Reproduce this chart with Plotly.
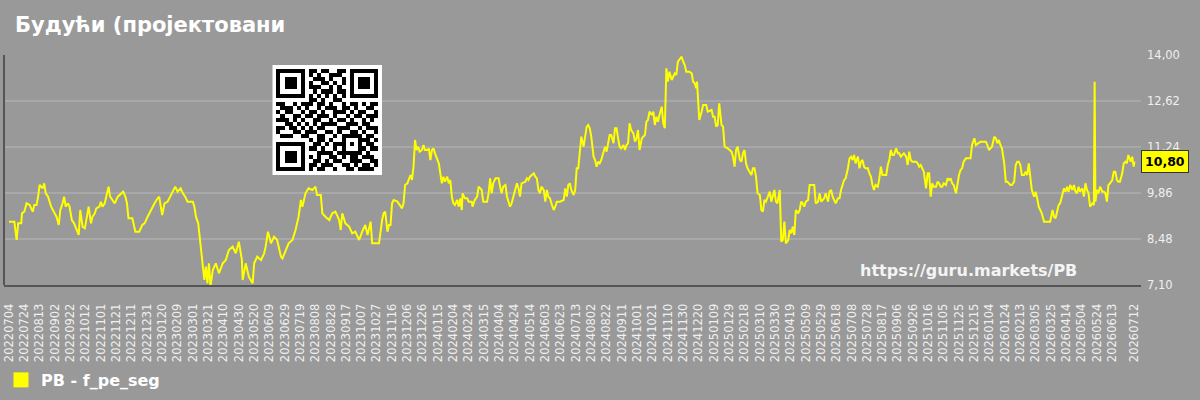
import plotly.graph_objects as go
import pandas as pd

# ---------------- data ----------------
START_DATE = "2022-07-04"
series_name = "PB - f_pe_seg"
title_text = "Будући (пројектовани"
watermark_text = "https://guru.markets/PB"
last_value = 10.80
last_label = "10,80"

# days since START_DATE
day_index = [
    0, 7, 10, 12, 16, 17, 20, 23, 27, 31, 33, 36, 38, 40, 44, 46, 48, 51, 55, 59,
    62, 65, 67, 70, 72, 74, 77, 79, 82, 85, 89, 91, 93, 96, 99, 102, 104, 107, 109, 112,
    114, 118, 120, 122, 125, 130, 132, 135, 138, 142, 146, 149, 152, 154, 156, 161, 165, 170, 174, 177,
    181, 185, 190, 194, 196, 200, 203, 207, 209, 214, 217, 220, 224, 227, 230, 233, 240, 242, 244, 247,
    250, 253, 255, 257, 259, 261, 263, 266, 270, 274, 279, 283, 287, 292, 296, 300, 304, 305, 309, 313,
    318, 320, 324, 329, 333, 335, 338, 342, 346, 350, 355,
    357, 361, 365, 370, 374, 378, 381, 383, 387, 391, 396, 400, 402, 407, 409, 413, 418, 422, 426, 431,
    433, 435, 439, 444, 448, 452, 457, 461, 465, 468, 472, 474, 483, 487,
    489, 491, 494, 496, 498, 500, 502, 507, 511, 513, 515, 517, 520, 522, 524, 526, 528, 530, 532, 534,
    536, 539, 541, 543, 546, 548, 550, 552, 554, 556, 559, 561, 563, 565, 567, 569, 572, 574, 576, 578,
    580, 582, 585, 587, 589, 591, 592, 595, 598, 600, 604, 605, 608, 611, 613, 615, 617, 619, 624, 626,
    628, 630, 632, 635, 639, 641, 643, 645, 648, 650, 652, 654, 656, 658, 661, 663, 665, 667, 669, 674,
    676, 678, 680, 682, 685, 687, 689, 691, 693, 695, 698, 700, 702, 704, 706, 708, 711, 713, 715, 719,
    724, 726, 728, 730, 732, 734, 737, 739, 741, 743, 745, 747, 750, 752, 754, 756, 758, 760, 763, 765,
    767, 769, 771, 773, 776, 778, 780, 782, 784, 786, 789, 791, 793, 795, 797, 799, 802, 804, 806, 808,
    810, 812, 815, 817, 819, 821, 823, 826, 828, 830, 832, 834, 836, 839, 841, 843, 845, 847, 849, 852,
    854, 856, 858, 860, 862, 865, 869, 871, 873, 875, 878, 880, 882, 884, 888, 891, 893, 895, 897, 898,
    900, 901, 904, 906, 910, 912, 917, 919, 921, 923, 925, 927, 930, 932, 934, 938, 943, 945, 947, 949,
    951, 954, 956, 958, 960, 962, 964, 967, 969, 971, 973, 975, 977, 980, 982, 984, 986, 988, 990, 993,
    995, 997, 999, 1001, 1003, 1006,
    1008, 1010, 1012, 1014, 1017, 1019, 1021, 1023, 1025, 1027, 1030, 1032, 1034, 1036, 1038, 1040, 1043, 1045, 1051, 1053,
    1056, 1058, 1060, 1062, 1064, 1066, 1069, 1071, 1073, 1075, 1077, 1079, 1082, 1084, 1086, 1088, 1090, 1092, 1095, 1097,
    1099, 1101, 1103, 1105, 1108, 1110, 1112, 1114, 1116, 1118, 1121, 1123, 1125, 1127, 1129, 1131, 1134, 1136, 1138, 1140,
    1142, 1145, 1147, 1149, 1151, 1153, 1155, 1158, 1160, 1162, 1164, 1166, 1168, 1171, 1173, 1175, 1177, 1179, 1181, 1184,
    1186, 1188, 1190, 1192, 1194, 1197, 1199, 1201, 1203, 1205, 1207, 1210, 1212, 1214, 1216, 1218, 1220, 1223, 1225, 1227,
    1229, 1231, 1233, 1236, 1238, 1240, 1242, 1244, 1246, 1249, 1251, 1255, 1257, 1260, 1262, 1268, 1273, 1275, 1277, 1279,
    1281, 1283, 1286, 1288, 1290, 1292, 1294, 1296, 1299, 1301, 1303, 1305, 1307, 1309, 1312, 1314, 1316, 1318, 1320, 1322,
    1325, 1327, 1329, 1331, 1333, 1335, 1338, 1340, 1342, 1344, 1346, 1348, 1351, 1355, 1359, 1362, 1364, 1366, 1368, 1370,
    1372, 1375, 1377, 1379, 1381, 1383, 1385, 1388, 1390, 1392, 1394, 1396, 1398, 1401, 1403, 1405, 1407, 1409, 1411, 1414,
    1416, 1417, 1418, 1420, 1422, 1424, 1427, 1429, 1431, 1433, 1435, 1437, 1440, 1442, 1444, 1446, 1448, 1450, 1453, 1455,
    1457, 1459, 1461, 1464, 1466, 1468, 1469,
]

pb_values = [
    9.00, 9.00, 8.45, 8.95, 8.95, 9.25, 9.30, 9.55, 9.50, 9.30, 9.50, 9.50, 9.75, 10.10, 10.00, 10.15, 9.85, 9.75, 9.45, 9.25,
    9.15, 8.90, 9.35, 9.55, 9.75, 9.45, 9.55, 9.45, 9.05, 8.95, 8.75, 8.60, 9.35, 8.85, 8.80, 9.25, 9.45, 8.95, 9.15, 9.25,
    9.40, 9.45, 9.60, 9.45, 9.55, 10.05, 9.75, 9.65, 9.55, 9.75, 9.85, 9.90, 9.75, 9.55, 9.10, 9.10, 8.70, 8.70, 8.90, 8.95,
    9.15, 9.35, 9.55, 9.70, 9.75, 9.20, 9.55, 9.60, 9.70, 9.95, 10.05, 9.90, 10.00, 9.85, 9.75, 9.60, 9.60, 9.45, 9.15, 8.95,
    8.35, 7.75, 7.25, 7.65, 7.15, 7.75, 7.05, 7.55, 7.75, 7.45, 7.75, 7.85, 8.15, 8.25, 8.05, 8.40, 7.85, 7.25, 7.75, 7.35,
    7.15, 7.75, 7.95, 7.85, 8.05, 8.25, 8.70, 8.35, 8.55, 8.45, 7.95,
    7.90, 8.15, 8.35, 8.45, 8.75, 9.15, 9.65, 9.45, 9.85, 10.00, 9.95, 10.05, 9.80, 9.80, 9.25, 9.15, 9.05, 9.25, 9.30, 9.05,
    8.75, 9.25, 8.95, 8.85, 8.65, 8.70, 8.45, 8.70, 8.90, 8.60, 9.00, 8.35, 8.35, 9.05,
    9.25, 9.30, 8.70, 8.90, 8.90, 9.55, 9.65, 9.60, 9.45, 9.40, 9.55, 10.10, 10.15, 10.30, 10.40, 10.25, 10.65, 11.45, 11.15, 11.25,
    11.10, 11.15, 11.30, 11.15, 11.15, 11.20, 10.85, 11.15, 11.20, 11.05, 10.85, 10.75, 10.45, 10.15, 10.35, 10.20, 10.35, 10.15, 10.25, 9.75,
    9.55, 9.50, 9.65, 9.45, 9.70, 9.35, 9.85, 9.70, 9.70, 9.60, 9.60, 9.45, 9.65, 9.75, 10.05, 10.00, 9.95, 9.60, 9.60, 9.85,
    10.30, 9.85, 10.15, 10.30, 10.30, 10.05, 9.85, 10.05, 10.10, 9.75, 9.60, 9.45, 9.55, 9.75, 10.05, 10.15, 10.00, 9.75, 10.15, 10.20,
    10.30, 10.25, 10.35, 10.40, 10.45, 10.35, 10.30, 9.95, 9.85, 10.05, 9.95, 9.60, 9.95, 9.75, 9.70, 9.55, 9.35, 9.45, 9.60, 9.60,
    9.65, 10.00, 9.75, 10.10, 10.15, 9.95, 9.80, 9.95, 10.60, 10.60, 11.15, 11.55, 11.25, 11.55, 11.85, 11.90, 11.80, 11.55, 10.95, 10.85,
    10.65, 10.80, 10.75, 10.85, 11.15, 11.25, 11.10, 11.35, 11.60, 11.60, 11.35, 11.80, 11.80, 11.50, 11.25, 11.20, 11.30, 11.15, 11.30, 11.35,
    11.95, 11.75, 11.65, 11.40, 11.50, 11.75, 11.15, 11.50, 11.55, 11.60, 12.00, 12.05, 12.30, 12.20, 12.30, 11.90, 12.15, 12.00, 12.20, 12.45,
    11.95, 11.80, 13.60, 13.20, 13.50, 13.25, 13.45, 13.40, 13.80, 13.85, 13.95, 13.80, 13.70, 13.50, 13.50, 13.45, 13.20, 13.15, 13.00, 13.20,
    12.20, 12.05, 12.30, 12.50, 12.50, 12.30, 12.35, 12.15, 12.15, 11.85, 11.90, 12.55, 11.90, 11.85, 11.25, 11.20, 11.10, 10.95, 10.65, 11.15,
    11.25, 10.85, 10.80, 11.05, 11.15, 10.75, 10.60, 10.45, 10.40, 10.60, 10.60, 10.35, 9.85, 9.80, 9.35, 9.30, 9.65, 9.60, 9.75, 9.90,
    9.60, 9.75, 9.95, 9.60, 9.55, 9.95,
    8.40, 8.45, 9.00, 8.35, 8.45, 8.75, 8.65, 8.85, 8.60, 9.35, 9.25, 9.35, 9.60, 9.55, 9.45, 9.60, 9.65, 10.10, 10.10, 9.55,
    9.60, 9.85, 9.60, 9.65, 9.70, 9.85, 9.60, 9.90, 9.95, 9.75, 9.65, 9.55, 9.70, 9.70, 9.95, 10.15, 10.25, 10.30, 10.60, 10.90,
    10.95, 10.85, 11.00, 10.75, 10.95, 10.60, 10.80, 10.85, 10.65, 10.60, 10.60, 10.45, 10.35, 10.10, 9.95, 10.10, 10.05, 10.30, 10.65, 10.40,
    10.40, 10.40, 10.70, 10.85, 11.15, 11.00, 11.00, 11.20, 11.05, 11.05, 10.95, 11.00, 11.05, 10.95, 10.70, 11.10, 10.85, 10.80, 10.80, 10.80,
    10.75, 10.65, 10.70, 10.60, 10.50, 10.00, 10.45, 10.45, 9.75, 10.15, 10.05, 10.05, 10.20, 10.15, 10.05, 10.05, 10.15, 10.10, 10.30, 10.25,
    10.30, 10.15, 10.10, 9.85, 10.20, 10.40, 10.55, 10.60, 10.80, 10.90, 10.90, 10.90, 11.30, 11.50, 11.30, 11.40, 11.40, 11.40, 11.30, 11.15,
    11.20, 11.25, 11.55, 11.50, 11.35, 11.45, 11.30, 11.20, 10.75, 10.20, 10.20, 10.15, 10.10, 10.10, 10.20, 10.70, 10.80, 10.80, 10.70, 10.40,
    10.40, 10.50, 10.40, 10.75, 10.25, 9.95, 9.75, 9.90, 9.70, 9.45, 9.35, 9.25, 9.00, 9.00, 9.00, 9.35, 9.15, 9.10, 9.35, 9.50,
    9.55, 9.80, 10.00, 9.90, 10.05, 9.90, 10.10, 9.95, 10.10, 9.90, 9.85, 10.05, 9.90, 10.00, 9.75, 10.15, 9.95, 9.85, 9.45, 9.55,
    9.50, 13.20, 9.60, 9.95, 9.85, 10.05, 9.90, 9.90, 9.85, 9.60, 10.10, 10.15, 10.25, 10.50, 10.50, 10.25, 10.20, 10.20, 10.45, 10.75,
    10.80, 10.75, 11.00, 10.80, 10.95, 10.65, 10.80,
]

x_tick_labels = [
    "20220704", "20220724", "20220813", "20220902", "20220922", "20221012", "20221101", "20221121",
    "20221211", "20221231", "20230120", "20230209", "20230301", "20230321", "20230410", "20230430",
    "20230520", "20230609", "20230629", "20230719", "20230808", "20230828", "20230917", "20231007",
    "20231027", "20231116", "20231206", "20231226", "20240115", "20240204", "20240224", "20240315",
    "20240404", "20240424", "20240514", "20240603", "20240623", "20240713", "20240802", "20240822",
    "20240911", "20241001", "20241021", "20241110", "20241130", "20241220", "20250109", "20250129",
    "20250218", "20250310", "20250330", "20250419", "20250509", "20250529", "20250618", "20250708",
    "20250728", "20250817", "20250906", "20250926", "20251016", "20251105", "20251125", "20251215",
    "20260104", "20260124", "20260213", "20260305", "20260325", "20260414", "20260504", "20260524",
    "20260613", "20260712",
]

y_tick_values = [7.10, 8.48, 9.86, 11.24, 12.62, 14.00]
y_tick_labels = ["7,10", "8,48", "9,86", "11,24", "12,62", "14,00"]

# QR-code style badge (decorative), 25x25 modules
qr_rows = [
    "1111111 0 110110011 0 1111111",
    "1000001 0 101001110 0 1000001",
    "1011101 0 011101001 0 1011101",
    "1011101 0 100110101 0 1011101",
    "1011101 0 111001010 0 1011101",
    "1000001 0 010111011 0 1000001",
    "1111111 0 101010101 0 1111111",
    "0000000 0 110100110 0 0000000",
    "110010 1 110110100101101011",
    "011101 0 100101110110100110",
    "101100 1 011010011101011001",
    "010011 0 110111010010110111",
    "111010 1 001100101101001010",
    "001101 0 101011110011101100",
    "110110 1 010110001110010111",
    "100011 0 111001101001101001",
    "011100 1 100110010111010110",
    "0000000 0 10110100110101101",
    "1111111 0 01101011100110110",
    "1000001 0 11010010111011011",
    "1011101 0 00111101010110100",
    "1011101 0 10100110101101110",
    "1011101 0 01101011001110011",
    "1000001 0 11011100110101101",
    "1111111 0 10110010011011110",
]

# ---------------- build ----------------
FONT = "DejaVu Sans"
start = pd.Timestamp(START_DATE)
dates = [start + pd.Timedelta(days=d) for d in day_index]
tick_dates = list(pd.to_datetime(x_tick_labels, format="%Y%m%d"))
x_range = [start - pd.Timedelta(hours=156), start + pd.Timedelta(hours=1477 * 24 + 12)]

qr = []
for r in qr_rows:
    s = r.replace(" ", "")
    s = (s + "0" * 25)[:25]
    qr.append([int(ch) for ch in s])
for i in range(5):
    for j in range(5):
        ring = max(abs(i - 2), abs(j - 2))
        qr[16 + i][16 + j] = 1 if ring != 1 else 0
qr_z = [[0] * 27] + [[0] + row + [0] for row in qr] + [[0] * 27]

fig = go.Figure()

fig.add_trace(go.Scatter(
    x=dates, y=pb_values, mode="lines",
    line=dict(color="#ffff00", width=2),
    showlegend=False, hoverinfo="skip",
))
fig.add_trace(go.Scatter(
    x=[None], y=[None], mode="markers", name=series_name,
    marker=dict(symbol="square", size=15, color="#ffff00"),
    showlegend=True,
))
fig.add_trace(go.Heatmap(
    z=qr_z, xaxis="x2", yaxis="y2", showscale=False, hoverinfo="skip",
    colorscale=[[0, "#ffffff"], [1, "#000000"]], zmin=0, zmax=1,
))

fig.update_layout(
    width=1200, height=400,
    margin=dict(l=1, r=59, t=55, b=115),
    paper_bgcolor="#999999", plot_bgcolor="#999999",
    font=dict(family=FONT, color="#f0f0f0"),
    title=dict(text=title_text, x=15 / 1200, xanchor="left", y=1 - 25 / 400, yanchor="middle",
               font=dict(family=FONT, size=21, color="#ffffff", weight="bold")),
    xaxis=dict(
        type="date", range=x_range, tickmode="array", tickvals=tick_dates, ticktext=x_tick_labels,
        tickangle=-90, tickfont=dict(family=FONT, size=11.5, color="#f0f0f0"),
        showgrid=False, zeroline=False, showline=True, linecolor="#555555", linewidth=2,
        ticks="outside", ticklen=12, tickcolor="rgba(0,0,0,0)", ticklabeloverflow="allow",
    ),
    yaxis=dict(
        side="right", range=[7.10, 14.00], tickmode="array", tickvals=y_tick_values, ticktext=y_tick_labels,
        tickfont=dict(family=FONT, size=11.5, color="#f0f0f0"),
        showgrid=True, gridcolor="#a8a8a8", gridwidth=1.5, zeroline=False, showline=False,
        ticks="", ticklabelstandoff=5, ticklabeloverflow="allow",
    ),
    xaxis2=dict(domain=[269 / 1140, 379 / 1140], anchor="y2", range=[-0.5, 26.5], visible=False),
    yaxis2=dict(domain=[110 / 230, 220 / 230], anchor="x2", range=[26.5, -0.5], visible=False),
    showlegend=True,
    legend=dict(x=-3 / 1140, xanchor="left", y=-95 / 230, yanchor="middle", bgcolor="rgba(0,0,0,0)",
                itemsizing="trace",
                font=dict(family=FONT, size=16, color="#ffffff", weight="bold")),
    shapes=[dict(type="line", xref="paper", yref="paper", x0=0, x1=0, y0=0, y1=1,
                 line=dict(color="#555555", width=2))],
    annotations=[
        dict(text=watermark_text, xref="paper", yref="paper", x=967 / 1140, y=15 / 230,
             xanchor="center", yanchor="middle", showarrow=False,
             font=dict(family=FONT, size=16, color="#f4f4f4", weight="bold")),
        dict(text=last_label, xref="paper", yref="y", x=1, y=last_value, xanchor="left", yanchor="middle",
             showarrow=False, bgcolor="#ffff00", bordercolor="#333333", borderwidth=1, borderpad=3,
             font=dict(family=FONT, size=12.5, color="#000000", weight="bold")),
    ],
)

fig.write_html("out.html")
